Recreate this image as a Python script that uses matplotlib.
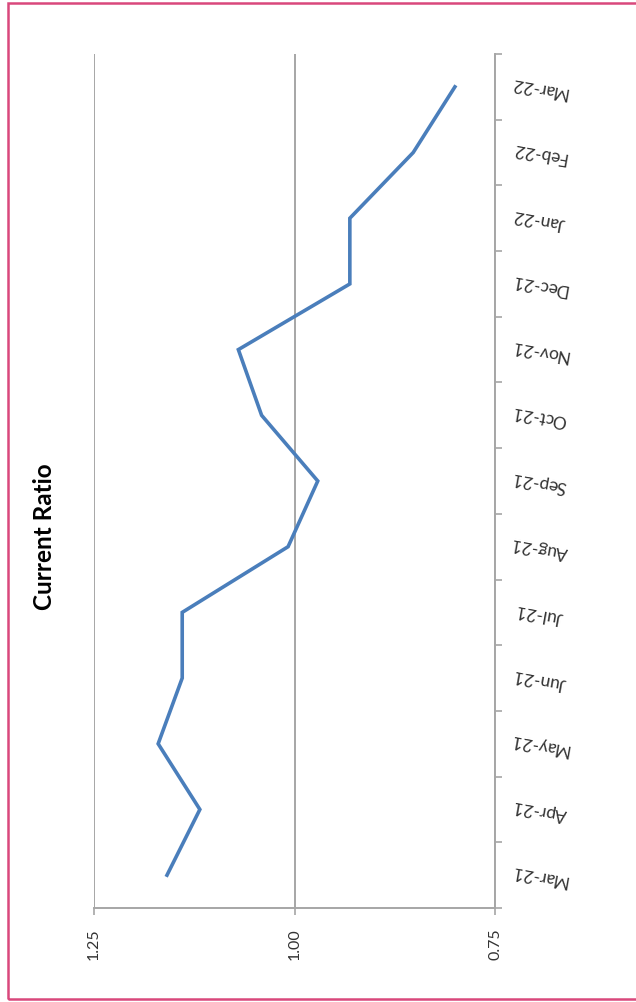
import matplotlib
matplotlib.use("Agg")
import matplotlib.pyplot as plt
from matplotlib.patches import Rectangle

months = ["Mar-21", "Apr-21", "May-21", "Jun-21", "Jul-21", "Aug-21", "Sep-21",
          "Oct-21", "Nov-21", "Dec-21", "Jan-22", "Feb-22", "Mar-22"]
current_ratio = [1.159, 1.118, 1.170, 1.140, 1.140, 1.008, 0.971,
                 1.041, 1.070, 0.931, 0.931, 0.852, 0.800]
value_ticks = [1.25, 1.00, 0.75]
value_labels = ["1.25", "1.00", "0.75"]
title = "Current Ratio"

plt.rcParams['font.family'] = ['Lato', 'DejaVu Sans']

W, H = 636, 1003
fig = plt.figure(figsize=(W / 100, H / 100), dpi=100)

# pink frame around the chart area
fig.patches.append(Rectangle((8 / W, 1 - 1000 / H), 640 / W, 996 / H,
                             transform=fig.transFigure, fill=False,
                             edgecolor="#D9487C", linewidth=1.8))

left, right, top, bottom = 94, 495, 55, 909
ax = fig.add_axes([left / W, 1 - bottom / H, (right - left) / W, (bottom - top) / H])

grid_color = "#A6A6A6"
text_color = "#333333"
ypos = list(range(len(months)))
ax.plot(current_ratio, ypos, color="#4A7EBB", linewidth=2.6,
        solid_joinstyle="miter", zorder=3)

ax.set_xlim(1.25, 0.75)
ax.set_ylim(-0.5, len(months) - 0.5)

# value axis along the bottom
ax.set_xticks(value_ticks)
ax.set_xticklabels(value_labels, rotation=90, fontsize=11.5, color=text_color,
                   va="top", ha="center")
ax.tick_params(axis="x", direction="out", length=5, width=1.2,
               color=grid_color, pad=9)
ax.grid(axis="x", color=grid_color, linewidth=1.4, zorder=0)

# category axis on the right
ax.yaxis.tick_right()
ax.set_yticks(ypos)
ax.set_yticklabels(months, rotation=170, fontsize=12.5, color=text_color,
                   ha="center", va="center", rotation_mode="anchor")
ax.tick_params(axis="y", which="major", length=0, pad=32)
ax.set_yticks([k - 0.5 for k in range(len(months) + 1)], minor=True)
ax.tick_params(axis="y", which="minor", direction="out", length=5, width=1.2,
               color=grid_color, right=True, left=False)

for side in ("top", "left"):
    ax.spines[side].set_visible(False)
for side in ("right", "bottom"):
    ax.spines[side].set_color(grid_color)
    ax.spines[side].set_linewidth(1.4)

fig.text(45 / W, 1 - 537 / H, title, rotation=90, fontsize=17.5,
         fontweight="bold", ha="center", va="center", color="#000000")

fig.savefig("out.png", dpi=100, facecolor="white")
